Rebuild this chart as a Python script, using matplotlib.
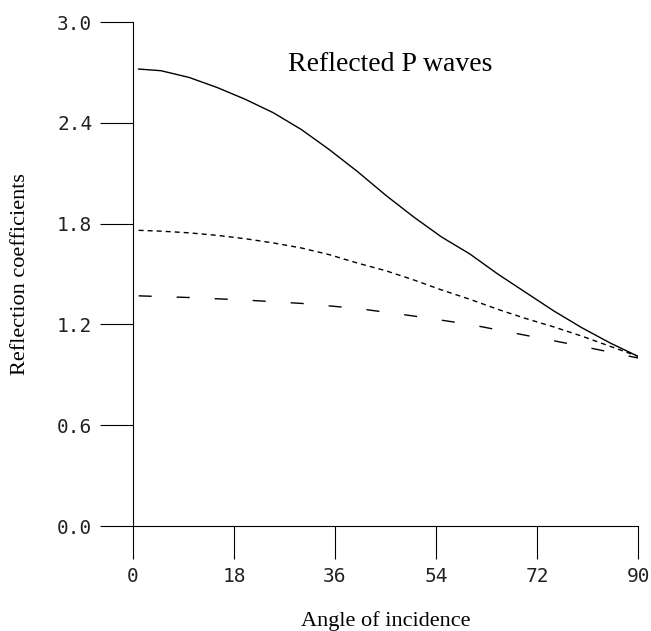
import matplotlib
matplotlib.use('Agg')
import matplotlib.pyplot as plt

# angles of incidence (degrees)
angles = [1, 5, 10, 15, 20, 25, 30, 35, 40, 45, 50, 55, 60, 65, 70, 75, 80, 85, 90]

# reflection coefficients
solid_vals = [2.72, 2.71, 2.67, 2.61, 2.54, 2.46, 2.36, 2.24, 2.11, 1.97,
              1.84, 1.72, 1.62, 1.50, 1.39, 1.28, 1.18, 1.09, 1.01]
dotted_vals = [1.76, 1.755, 1.745, 1.73, 1.71, 1.685, 1.655, 1.615, 1.565, 1.52,
               1.465, 1.405, 1.35, 1.29, 1.235, 1.185, 1.13, 1.07, 1.01]
dashed_angles = [1, 10, 20, 30, 40, 50, 60, 70, 80, 90]
dashed_vals = [1.37, 1.36, 1.345, 1.325, 1.295, 1.25, 1.20, 1.135, 1.07, 1.00]

xticks = [0, 18, 36, 54, 72, 90]
yticks = [0.0, 0.6, 1.2, 1.8, 2.4, 3.0]

W, H = 651, 631
fig = plt.figure(figsize=(W / 100, H / 100), dpi=100)
ax = fig.add_axes([133 / W, 1 - 526 / H, (638 - 133) / W, (526 - 22) / H])

ax.plot(angles, solid_vals, color='black', lw=1.0)
ax.plot(angles, dotted_vals, color='black', lw=1.0, linestyle=(0, (3.6, 2.9)))
ax.plot(dashed_angles, dashed_vals, color='black', lw=1.0, linestyle=(0, (9.4, 18)))

ax.set_xlim(0, 90)
ax.set_ylim(0, 3.0)
ax.spines['top'].set_visible(False)
ax.spines['right'].set_visible(False)
for s in ['left', 'bottom']:
    ax.spines[s].set_linewidth(0.8)

ax.set_xticks(xticks)
ax.set_xticklabels([str(t) for t in xticks])
ax.set_yticks(yticks)
ax.set_yticklabels([f'{t:.1f}' for t in yticks])
ax.tick_params(direction='out', length=23.8, width=0.8, pad=5.5,
               labelsize=14, labelcolor='#222222')
for lab in ax.get_xticklabels() + ax.get_yticklabels():
    lab.set_family('DejaVu Sans Mono')

serif = ['Liberation Serif', 'DejaVu Serif']
fig.text(390.5 / W, 1 - 71 / H, 'Reflected P waves', family=serif, fontsize=20,
         ha='center', va='baseline')
fig.text(385.5 / W, 1 - 626 / H, 'Angle of incidence', family=serif, fontsize=16,
         ha='center', va='baseline')
fig.text(25 / W, 1 - 274 / H, 'Reflection coefficients', family=serif, fontsize=16,
         ha='center', va='baseline', rotation=90, rotation_mode='anchor')

fig.savefig('out.png', dpi=100)
